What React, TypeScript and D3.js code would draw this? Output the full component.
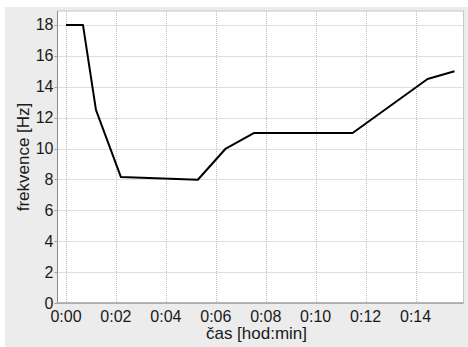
import React from "react";
import * as d3 from "d3";

// time in minutes, frequency in Hz
const times = [0, 0.68, 1.2, 2.2, 5.28, 6.4, 7.52, 11.48, 14.48, 15.56];
const freqs = [18, 18, 12.5, 8.15, 7.98, 10, 11, 11, 14.5, 15];
const xTicks = [0, 2, 4, 6, 8, 10, 12, 14];
const yTicks = [0, 2, 4, 6, 8, 10, 12, 14, 16, 18];
const xTitle = "čas [hod:min]";
const yTitle = "frekvence [Hz]";

const W = 468;
const H = 347;
const L = 57.5, R = 463.5, T = 11, B = 303;

export default function App() {
  const x = d3.scaleLinear().domain([-0.34, 15.92]).range([L, R]);
  const y = d3.scaleLinear().domain([0, 18.9]).range([B, T]);
  const pts = times.map((t, i) => [t, freqs[i]] as [number, number]);
  const line = d3.line<[number, number]>().x((d) => x(d[0])).y((d) => y(d[1]));
  const fmt = (m: number) => `0:${String(m).padStart(2, "0")}`;
  const font = "Liberation Sans, Arial, sans-serif";
  return (
    <svg width={W} height={H} style={{ position: "absolute", left: 0, top: 0 }}>
      <rect x={0} y={0} width={W} height={H} fill="#ffffff" />
      <rect x={5} y={7} width={W - 5} height={H - 7} fill="#ececec" />
      <rect x={L} y={T} width={R - L} height={B - T} fill="#ffffff" stroke="#c8c8c8" strokeWidth={1} />
      {xTicks.map((t) => (
        <line key={"gx" + t} x1={Math.round(x(t)) + 0.5} x2={Math.round(x(t)) + 0.5} y1={T} y2={B} stroke="#bdbdbd" strokeWidth={1} strokeDasharray="1,1" />
      ))}
      {yTicks.map((v) => (
        <line key={"gy" + v} x1={L} x2={R} y1={Math.round(y(v)) + 0.5} y2={Math.round(y(v)) + 0.5} stroke="#bdbdbd" strokeWidth={1} strokeDasharray="1,1" />
      ))}
      <line x1={L} x2={L} y1={T} y2={B} stroke="#8c8c8c" strokeWidth={1} />
      <line x1={L} x2={R} y1={B} y2={B} stroke="#8c8c8c" strokeWidth={1} />
      {yTicks.map((v) => (
        <g key={"ty" + v}>
          <line x1={L - 3} x2={L} y1={Math.round(y(v)) + 0.5} y2={Math.round(y(v)) + 0.5} stroke="#a0a0a0" />
          <text x={53.5} y={y(v) + 5.5} textAnchor="end" fontSize={16} fontFamily={font} fill="#1a1a1a">{v}</text>
        </g>
      ))}
      {xTicks.map((t) => (
        <text key={"tx" + t} x={x(t)} y={321.5} textAnchor="middle" fontSize={16} fontFamily={font} fill="#1a1a1a">{fmt(t)}</text>
      ))}
      <path d={line(pts) || ""} fill="none" stroke="#000" strokeWidth={2} strokeLinejoin="round" />
      <text x={(L + R) / 2 - 4} y={339} textAnchor="middle" fontSize={17} fontFamily={font} fill="#1a1a1a">{xTitle}</text>
      <text transform={`translate(28.5,${(T + B) / 2}) rotate(-90)`} textAnchor="middle" fontSize={17} fontFamily={font} fill="#1a1a1a">{yTitle}</text>
    </svg>
  );
}
